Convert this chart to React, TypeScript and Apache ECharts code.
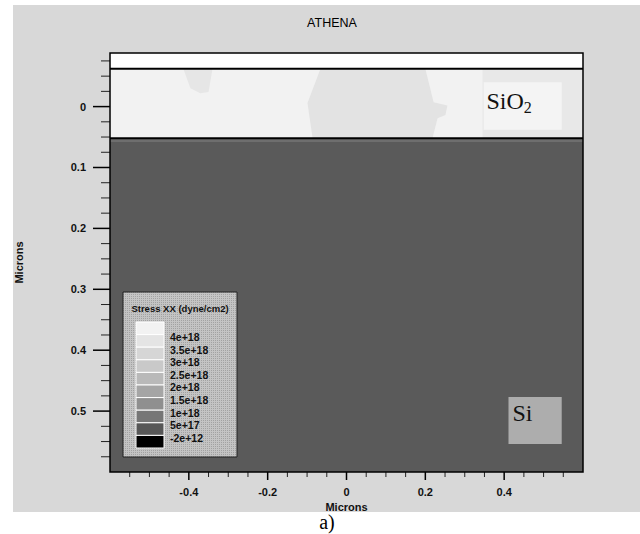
import React, { useEffect, useRef } from "react";
import * as echarts from "echarts";

// ---- axis extents (microns) ----
const xMin = -0.6;
const xMax = 0.6;
const yMin = -0.088;
const yMax = 0.6;

// ---- tick values ----
const xMajorTicks = [-0.4, -0.2, 0, 0.2, 0.4];
const xMinorTicks = [-0.55, -0.5, -0.45, -0.35, -0.3, -0.25, -0.15, -0.1, -0.05, 0.05, 0.1, 0.15, 0.25, 0.3, 0.35, 0.45, 0.5, 0.55];
const yMajorTicks = [0, 0.1, 0.2, 0.3, 0.4, 0.5];
const yMinorTicks = [-0.075, -0.05, -0.025, 0.025, 0.05, 0.075, 0.125, 0.15, 0.175, 0.225, 0.25, 0.275, 0.325, 0.35, 0.375, 0.425, 0.45, 0.475, 0.525, 0.55, 0.575];

// ---- material layers (depth in microns) ----
const layerNames = ["Ambient", "SiO2", "Si"];
const layerTops = [-0.088, -0.062, 0.052];
const layerBottoms = [-0.062, 0.052, 0.6];
const layerColors = ["#ffffff", "#f2f2f2", "#5a5a5a"];

// ---- stress contour patches inside the oxide ----
const patchA = [[-0.414, -0.062], [-0.34, -0.062], [-0.35, -0.024], [-0.371, -0.022], [-0.396, -0.03]];
const patchB = [[-0.066, -0.062], [0.2, -0.062], [0.221, -0.007], [0.256, -0.002], [0.251, 0.014], [0.231, 0.019], [0.218, 0.052], [-0.086, 0.052], [-0.099, -0.006]];
const patchC = [[0.345, -0.062], [0.6, -0.062], [0.6, 0.052], [0.345, 0.052]];
const surfaceBand = [[-0.6, 0.052], [0.6, 0.052], [0.6, 0.058], [-0.6, 0.058]];
const patchColors = ["#e6e6e6", "#e3e3e3", "#e8e8e8", "#6e6e6e"];

// ---- interfaces ----
const interfaceDepths = [-0.062, 0.052];

// ---- annotations ----
const annotationTexts = ["{m|SiO}{s|2}", "{m|Si}"];
const annotationBoxes = [[0.348, 0.546, -0.04, 0.038], [0.411, 0.546, 0.477, 0.554]];
const annotationColors = ["#f4f4f4", "#adadad"];
const annotationAnchors = [[0.355, -0.009], [0.421, 0.503]];

// ---- legend ----
const legendTitle = "Stress XX (dyne/cm2)";
const legendLabels = ["4e+18", "3.5e+18", "3e+18", "2.5e+18", "2e+18", "1.5e+18", "1e+18", "5e+17", "-2e+12"];
const legendColors = ["#f2f2f2", "#e4e4e4", "#d6d6d6", "#c9c9c9", "#b9b9b9", "#a5a5a5", "#8f8f8f", "#767676", "#575757", "#000000"];

const rectPoly = (x0: number, x1: number, y0: number, y1: number) => [[x0, y0], [x1, y0], [x1, y1], [x0, y1]];

const regionPolys: number[][][] = [
  ...layerNames.map((_, i) => rectPoly(xMin, xMax, layerTops[i], layerBottoms[i])),
  patchA,
  patchB,
  patchC,
  surfaceBand,
];
const regionColors = [...layerColors, ...patchColors];

// tick specs: [axis(0=x,1=y), value, major(1)/minor(0)]
const tickSpecs: number[][] = [
  ...xMajorTicks.map((v) => [0, v, 1]),
  ...xMinorTicks.map((v) => [0, v, 0]),
  ...yMajorTicks.map((v) => [1, v, 1]),
  ...yMinorTicks.map((v) => [1, v, 0]),
];

const axisFont = { fontFamily: "Liberation Sans", fontWeight: "bold" as const, fontSize: 11, color: "#111" };

export default function App() {
  const ref = useRef<HTMLDivElement>(null);
  useEffect(() => {
    document.body.style.margin = "0";
    const chart = echarts.init(ref.current!, null, { renderer: "svg" });

    const cv = document.createElement("canvas");
    cv.width = 2;
    cv.height = 2;
    const ctx = cv.getContext("2d")!;
    ctx.fillStyle = "#c4c4c4";
    ctx.fillRect(0, 0, 2, 2);
    ctx.fillStyle = "#a2a2a2";
    ctx.fillRect(0, 0, 1, 1);

    const legendChildren: any[] = [
      { type: "rect", shape: { x: 0, y: 0, width: 114, height: 165 }, style: { fill: { image: cv, repeat: "repeat" }, stroke: "#222", lineWidth: 1 }, z: 20 },
      { type: "text", x: 57, y: 16, style: { text: legendTitle, font: "bold 9.5px 'Liberation Sans'", fill: "#111", align: "center", verticalAlign: "middle" }, z: 21 },
    ];
    legendColors.forEach((c, i) => {
      legendChildren.push({ type: "rect", shape: { x: 13, y: 30 + i * 12.6, width: 28, height: 12.6 }, style: { fill: c, stroke: "#ffffff", lineWidth: 1 }, z: 21 });
    });
    legendLabels.forEach((t, i) => {
      legendChildren.push({ type: "text", x: 47, y: 45 + i * 12.6, style: { text: t, font: "bold 10.5px 'Liberation Sans'", fill: "#111", align: "left", verticalAlign: "middle" }, z: 21 });
    });

    const option: any = {
      animation: false,
      backgroundColor: "transparent",
      title: {
        text: "ATHENA",
        left: 327,
        top: 11.5,
        textAlign: "center",
        textStyle: { fontFamily: "Liberation Sans", fontSize: 12.5, fontWeight: "normal", color: "#000" },
      },
      grid: { left: 110, right: 57, top: 53, bottom: 62, show: false },
      xAxis: {
        type: "value", min: xMin, max: xMax, position: "bottom",
        axisLine: { show: false, onZero: false },
        axisTick: { show: false },
        axisLabel: { show: true, customValues: xMajorTicks, margin: 14, ...axisFont },
        splitLine: { show: false },
        name: "Microns", nameLocation: "middle", nameGap: 26,
        nameTextStyle: { ...axisFont },
      },
      yAxis: {
        type: "value", min: yMin, max: yMax, inverse: true, position: "left",
        axisLine: { show: false, onZero: false },
        axisTick: { show: false },
        axisLabel: { show: true, customValues: yMajorTicks, margin: 24, ...axisFont },
        splitLine: { show: false },
        name: "Microns", nameLocation: "middle", nameGap: 86,
        nameTextStyle: { ...axisFont },
      },
      series: [
        {
          type: "custom",
          name: "regions",
          clip: true,
          z: 2,
          data: regionPolys.map(() => [0, 0]),
          renderItem: (params: any, api: any) => {
            const poly = regionPolys[params.dataIndex];
            return {
              type: "polygon",
              shape: { points: poly.map((p) => api.coord(p)) },
              style: { fill: regionColors[params.dataIndex] },
            };
          },
        },
        {
          type: "custom",
          name: "interfaces",
          z: 3,
          data: interfaceDepths.map((d) => [0, d]),
          renderItem: (params: any, api: any) => {
            const d = api.value(1);
            const a = api.coord([xMin, d]);
            const b = api.coord([xMax, d]);
            return { type: "line", shape: { x1: a[0], y1: a[1], x2: b[0], y2: b[1] }, style: { stroke: "#000", lineWidth: 2 } };
          },
        },
        {
          type: "custom",
          name: "labels",
          z: 4,
          data: annotationBoxes.map(() => [0, 0]),
          renderItem: (params: any, api: any) => {
            const i = params.dataIndex;
            const bx = annotationBoxes[i];
            const p0 = api.coord([bx[0], bx[2]]);
            const p1 = api.coord([bx[1], bx[3]]);
            const an = api.coord(annotationAnchors[i]);
            return {
              type: "group",
              children: [
                { type: "rect", shape: { x: p0[0], y: p0[1], width: p1[0] - p0[0], height: p1[1] - p0[1] }, style: { fill: annotationColors[i] } },
                {
                  type: "text",
                  x: an[0],
                  y: an[1],
                  style: {
                    text: annotationTexts[i],
                    align: "left",
                    verticalAlign: "middle",
                    fill: "#111",
                    rich: {
                      m: { fontFamily: "Liberation Serif", fontSize: 24, lineHeight: 28, fill: "#111" },
                      s: { fontFamily: "Liberation Serif", fontSize: 16, lineHeight: 16, verticalAlign: "bottom", fill: "#111" },
                    },
                  },
                },
              ],
            };
          },
        },
        {
          type: "custom",
          name: "ticks",
          z: 5,
          clip: false,
          data: tickSpecs.map((t) => (t[0] === 0 ? [t[1], yMax] : [xMin, t[1]])),
          renderItem: (params: any, api: any) => {
            const t = tickSpecs[params.dataIndex];
            const major = t[2] === 1;
            if (t[0] === 0) {
              const p = api.coord([t[1], yMax]);
              const len = major ? 8 : 5;
              return { type: "line", shape: { x1: p[0], y1: p[1], x2: p[0], y2: p[1] + len }, style: { stroke: major ? "#000" : "#222", lineWidth: major ? 1.5 : 1 } };
            }
            const p = api.coord([xMin, t[1]]);
            const len = major ? 17 : 9;
            return { type: "line", shape: { x1: p[0] - len, y1: p[1], x2: p[0], y2: p[1] }, style: { stroke: major ? "#000" : "#222", lineWidth: major ? 1.5 : 1 } };
          },
        },
        {
          type: "custom",
          name: "frame",
          z: 6,
          clip: false,
          data: [[0, 0]],
          renderItem: (params: any) => {
            const cs = params.coordSys;
            return { type: "rect", shape: { x: cs.x, y: cs.y, width: cs.width, height: cs.height }, style: { fill: "none", stroke: "#000", lineWidth: 1.5 } };
          },
        },
      ],
      graphic: [
        { type: "group", x: 123, y: 292, children: legendChildren },
      ],
    };
    chart.setOption(option);
    return () => chart.dispose();
  }, []);
  return (
    <div style={{ position: "relative", width: 640, height: 534, background: "#ffffff" }}>
      <div style={{ position: "absolute", left: 13, top: 5, width: 627, height: 507, background: "#d8d8d8" }} />
      <div
        style={{
          position: "absolute",
          left: 0,
          top: 512,
          width: 654,
          textAlign: "center",
          fontFamily: "'Liberation Serif'",
          fontSize: 20,
          lineHeight: "20px",
          color: "#000",
        }}
      >
        a)
      </div>
      <div ref={ref} style={{ position: "absolute", left: 0, top: 0, width: 640, height: 534 }} />
    </div>
  );
}
